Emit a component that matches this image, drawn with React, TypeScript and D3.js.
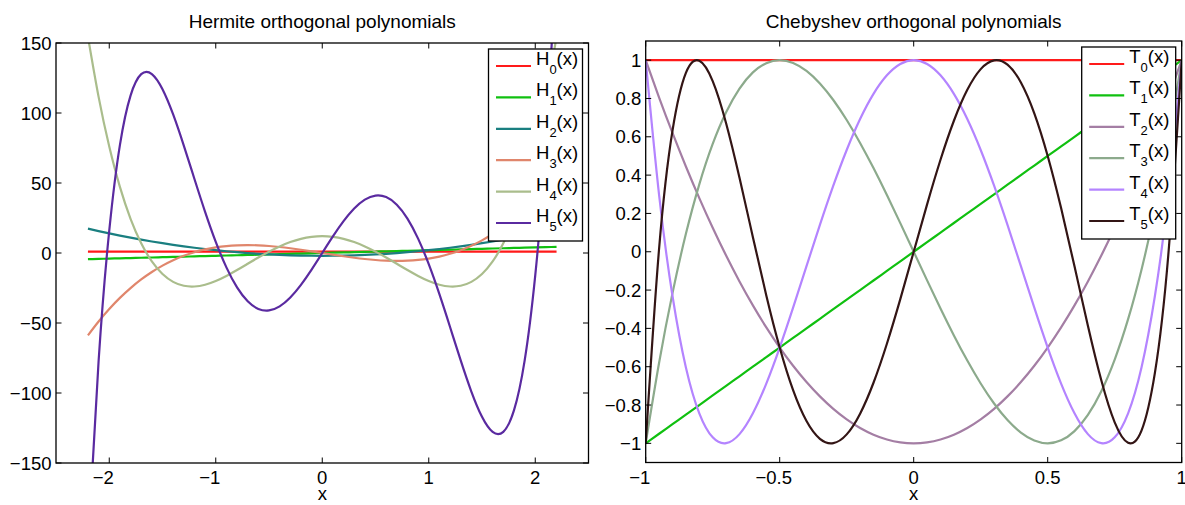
import React from 'react';
import * as d3 from 'd3';

// sample grid and values for the Hermite panel
const hermiteX = [-2.2, -2.1, -2.0, -1.9, -1.8, -1.7, -1.6, -1.5, -1.4, -1.3, -1.2, -1.1, -1.0, -0.9, -0.8, -0.7, -0.6, -0.5, -0.4, -0.3, -0.2, -0.1, 0,
  0.1, 0.2, 0.3, 0.4, 0.5, 0.6, 0.7, 0.8, 0.9, 1.0, 1.1, 1.2, 1.3, 1.4, 1.5, 1.6, 1.7, 1.8, 1.9, 2.0, 2.1, 2.2];
const hermite0 = hermiteX.map(() => 1);
const hermite1 = [-4.4, -4.2, -4, -3.8, -3.6, -3.4, -3.2, -3, -2.8, -2.6, -2.4, -2.2, -2, -1.8, -1.6, -1.4, -1.2, -1, -0.8, -0.6, -0.4, -0.2, 0,
  0.2, 0.4, 0.6, 0.8, 1, 1.2, 1.4, 1.6, 1.8, 2, 2.2, 2.4, 2.6, 2.8, 3, 3.2, 3.4, 3.6, 3.8, 4, 4.2, 4.4];
const hermite2 = [17.36, 15.64, 14, 12.44, 10.96, 9.56, 8.24, 7, 5.84, 4.76, 3.76, 2.84, 2, 1.24, 0.56, -0.04, -0.56, -1, -1.36, -1.64, -1.84, -1.96, -2,
  -1.96, -1.84, -1.64, -1.36, -1, -0.56, -0.04, 0.56, 1.24, 2, 2.84, 3.76, 4.76, 5.84, 7, 8.24, 9.56, 10.96, 12.44, 14, 15.64, 17.36];
const hermite3 = [-58.78, -48.89, -40, -32.07, -25.06, -18.9, -13.57, -9, -5.15, -1.98, 0.58, 2.55, 4, 4.97, 5.5, 5.66, 5.47, 5, 4.29, 3.38, 2.34, 1.19, 0,
  -1.19, -2.34, -3.38, -4.29, -5, -5.47, -5.66, -5.5, -4.97, -4, -2.55, -0.58, 1.98, 5.15, 9, 13.57, 18.9, 25.06, 32.07, 40, 48.89, 58.78];
const hermite4 = [154.49, 111.49, 76, 47.23, 24.44, 6.91, -6.02, -15, -20.61, -23.42, -23.94, -22.65, -20, -16.38, -12.17, -7.68, -3.21, 1, 4.73, 7.81, 10.11, 11.52, 12,
  11.52, 10.11, 7.81, 4.73, 1, -3.21, -7.68, -12.17, -16.38, -20, -22.65, -23.94, -23.42, -20.61, -15, -6.02, 6.91, 24.44, 47.23, 76, 111.49, 154.49];
const hermite5 = [-209.48, -77.15, 16, 77.09, 112.46, 127.73, 127.82, 117, 98.94, 76.71, 52.85, 29.42, 8, -10.26, -24.57, -34.5, -39.93, -41, -38.09, -31.76, -22.73, -11.84, 0,
  11.84, 22.73, 31.76, 38.09, 41, 39.93, 34.5, 24.57, 10.26, -8, -29.42, -52.85, -76.71, -98.94, -117, -127.82, -127.73, -112.46, -77.09, -16, 77.15, 209.48];
const hermiteColors = ['#ff1a1a', '#10c010', '#1a7f80', '#e0866c', '#aabd8c', '#5a2aa0'];
const hermiteXTicks = [-2, -1, 0, 1, 2];
const hermiteYTicks = [-150, -100, -50, 0, 50, 100, 150];

// sample grid and values for the Chebyshev panel
const chebX = [-1, -0.95, -0.9, -0.85, -0.8, -0.75, -0.7, -0.65, -0.6, -0.55, -0.5, -0.45, -0.4, -0.35, -0.3, -0.25, -0.2, -0.15, -0.1, -0.05, 0,
  0.05, 0.1, 0.15, 0.2, 0.25, 0.3, 0.35, 0.4, 0.45, 0.5, 0.55, 0.6, 0.65, 0.7, 0.75, 0.8, 0.85, 0.9, 0.95, 1];
const cheb0 = chebX.map(() => 1);
const cheb1 = [-1, -0.95, -0.9, -0.85, -0.8, -0.75, -0.7, -0.65, -0.6, -0.55, -0.5, -0.45, -0.4, -0.35, -0.3, -0.25, -0.2, -0.15, -0.1, -0.05, 0,
  0.05, 0.1, 0.15, 0.2, 0.25, 0.3, 0.35, 0.4, 0.45, 0.5, 0.55, 0.6, 0.65, 0.7, 0.75, 0.8, 0.85, 0.9, 0.95, 1];
const cheb2 = [1, 0.805, 0.62, 0.445, 0.28, 0.125, -0.02, -0.155, -0.28, -0.395, -0.5, -0.595, -0.68, -0.755, -0.82, -0.875, -0.92, -0.955, -0.98, -0.995, -1,
  -0.995, -0.98, -0.955, -0.92, -0.875, -0.82, -0.755, -0.68, -0.595, -0.5, -0.395, -0.28, -0.155, -0.02, 0.125, 0.28, 0.445, 0.62, 0.805, 1];
const cheb3 = [-1, -0.5795, -0.216, 0.0935, 0.352, 0.5625, 0.728, 0.8515, 0.936, 0.9845, 1, 0.9855, 0.944, 0.8785, 0.792, 0.6875, 0.568, 0.4365, 0.296, 0.1495, 0,
  -0.1495, -0.296, -0.4365, -0.568, -0.6875, -0.792, -0.8785, -0.944, -0.9855, -1, -0.9845, -0.936, -0.8515, -0.728, -0.5625, -0.352, -0.0935, 0.216, 0.5795, 1];
const cheb4 = [1, 0.29605, -0.2312, -0.60395, -0.8432, -0.96875, -0.9992, -0.95195, -0.8432, -0.68795, -0.5, -0.29195, -0.0752, 0.14005, 0.3448, 0.53125, 0.6928, 0.82405, 0.9208, 0.98005, 1,
  0.98005, 0.9208, 0.82405, 0.6928, 0.53125, 0.3448, 0.14005, -0.0752, -0.29195, -0.5, -0.68795, -0.8432, -0.95195, -0.9992, -0.96875, -0.8432, -0.60395, -0.2312, 0.29605, 1];
const cheb5 = [-1, 0.017, 0.63216, 0.933215, 0.99712, 0.890625, 0.67088, 0.386035, 0.07584, -0.227755, -0.5, -0.722745, -0.88384, -0.976535, -0.99888, -0.953125, -0.84512, -0.683715, -0.48016, -0.247505, 0,
  0.247505, 0.48016, 0.683715, 0.84512, 0.953125, 0.99888, 0.976535, 0.88384, 0.722745, 0.5, 0.227755, -0.07584, -0.386035, -0.67088, -0.890625, -0.99712, -0.933215, -0.63216, -0.017, 1];
const chebColors = ['#ff1a1a', '#10c010', '#a47ea4', '#8caa8c', '#b484ff', '#331515'];
const chebXTicks = [-1, -0.5, 0, 0.5, 1];
const chebYTicks = [-1, -0.8, -0.6, -0.4, -0.2, 0, 0.2, 0.4, 0.6, 0.8, 1];

const FONT = '"Liberation Sans", Arial, Helvetica, sans-serif';
const fmt = (v: number) => String(v).replace('-', '\u2212');

type PanelProps = {
  id: string;
  left: number; right: number; top: number; bottom: number;
  xDomain: [number, number]; yDomain: [number, number];
  xTicks: number[]; yTicks: number[];
  xs: number[]; series: number[][]; colors: string[];
  title: string; letter: string;
};

function Panel(p: PanelProps) {
  const x = d3.scaleLinear().domain(p.xDomain).range([p.left, p.right]);
  const y = d3.scaleLinear().domain(p.yDomain).range([p.bottom, p.top]);
  const line = d3.line<number>().x((_, i) => x(p.xs[i])).y((d) => y(d)).curve(d3.curveNatural);
  const tk = 5.5;
  const lw = 94, lh = 192;
  const lx = p.right - 6 - lw, ly = p.top + 6;
  const cx = (p.left + p.right) / 2;
  return (
    <g fontFamily={FONT} fill="#000">
      <defs>
        <clipPath id={p.id}>
          <rect x={p.left} y={p.top} width={p.right - p.left} height={p.bottom - p.top} />
        </clipPath>
      </defs>
      <text x={cx} y={28} textAnchor="middle" fontSize={19}>{p.title}</text>
      <g clipPath={`url(#${p.id})`}>
        {p.series.map((s, i) => (
          <path key={i} d={line(s) || ''} fill="none" stroke={p.colors[i]} strokeWidth={2.2} strokeLinejoin="round" />
        ))}
      </g>
      <rect x={p.left} y={p.top} width={p.right - p.left} height={p.bottom - p.top} fill="none" stroke="#000" strokeWidth={1.3} />
      {p.xTicks.map((t) => (
        <g key={'x' + t}>
          <line x1={x(t)} x2={x(t)} y1={p.bottom} y2={p.bottom - tk} stroke="#000" />
          <line x1={x(t)} x2={x(t)} y1={p.top} y2={p.top + tk} stroke="#000" />
          <text x={x(t) + (t < 0 ? -6 : 0)} y={p.bottom + 21} textAnchor="middle" fontSize={18.5}>{fmt(t)}</text>
        </g>
      ))}
      {p.yTicks.map((t) => (
        <g key={'y' + t}>
          <line x1={p.left} x2={p.left + tk} y1={y(t)} y2={y(t)} stroke="#000" />
          <line x1={p.right} x2={p.right - tk} y1={y(t)} y2={y(t)} stroke="#000" />
          <text x={p.left - 4.5} y={y(t)} dy="0.36em" textAnchor="end" fontSize={18.5}>{fmt(t)}</text>
        </g>
      ))}
      <text x={cx} y={500} textAnchor="middle" fontSize={18.5}>x</text>
      <rect x={lx} y={ly} width={lw} height={lh} fill="#fff" stroke="#000" strokeWidth={1.3} />
      {p.colors.map((c, i) => {
        const ry = ly + 17 + i * 31.4;
        return (
          <g key={'l' + i}>
            <line x1={lx + 7.5} x2={lx + 42.5} y1={ry} y2={ry} stroke={c} strokeWidth={2.2} />
            <text x={lx + 47.5} y={ry - 1} fontSize={18.5}>
              {p.letter}
              <tspan dy={9} fontSize={13}>{i}</tspan>
              <tspan dy={-9}>(x)</tspan>
            </text>
          </g>
        );
      })}
    </g>
  );
}

export default function App() {
  return (
    <svg width={1185} height={505} style={{ position: 'absolute', left: 0, top: 0, background: '#fff' }}>
      <rect width={1185} height={505} fill="#fff" />
      <Panel
        id="clipH"
        left={56} right={588.5} top={43} bottom={463}
        xDomain={[-2.5, 2.5]} yDomain={[-150, 150]}
        xTicks={hermiteXTicks} yTicks={hermiteYTicks}
        xs={hermiteX}
        series={[hermite0, hermite1, hermite2, hermite3, hermite4, hermite5]}
        colors={hermiteColors}
        title="Hermite orthogonal polynomials" letter="H"
      />
      <Panel
        id="clipT"
        left={645.7} right={1181.7} top={41} bottom={462.5}
        xDomain={[-1, 1]} yDomain={[-1.1, 1.1]}
        xTicks={chebXTicks} yTicks={chebYTicks}
        xs={chebX}
        series={[cheb0, cheb1, cheb2, cheb3, cheb4, cheb5]}
        colors={chebColors}
        title="Chebyshev orthogonal polynomials" letter="T"
      />
    </svg>
  );
}
